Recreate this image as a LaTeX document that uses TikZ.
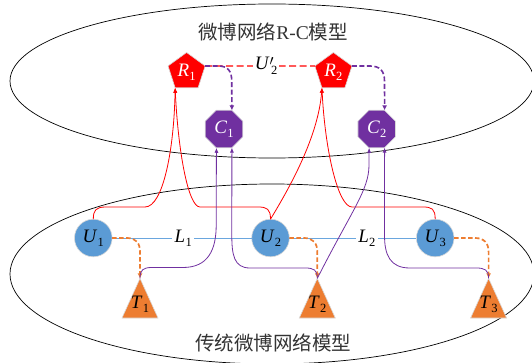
\documentclass[tikz,border=0pt]{standalone}
\usepackage{fontspec}
\setmainfont{Liberation Serif}
\newfontfamily\cjk{Noto Sans CJK SC}
\usetikzlibrary{shapes.geometric,arrows.meta}
\definecolor{rred}{HTML}{FF0000}
\definecolor{ppur}{HTML}{7030A0}
\definecolor{ublue}{HTML}{5B9BD5}
\definecolor{torange}{HTML}{ED7D31}
\definecolor{lblue}{HTML}{6AA6DE}
\definecolor{ttl}{HTML}{333333}
\newcommand\nl[2]{\textit{#1}\kern0.3pt\raisebox{-0.22em}{\fontsize{12.5}{12.5}\selectfont #2}}
\newcommand\nlp[2]{\textit{#1}\rlap{\raisebox{4.6pt}{\fontsize{15}{15}\selectfont$\prime$}}\kern1.5pt\raisebox{-0.26em}{\fontsize{12.5}{12.5}\selectfont #2}}
\begin{document}
\begin{tikzpicture}[x=1pt,y=-1pt,
  nodebase/.style={inner sep=0pt, outer sep=0pt, font=\fontsize{19}{19}\selectfont, draw=gray!30, line width=0.6pt},
  rnode/.style={nodebase, regular polygon, regular polygon sides=5, minimum size=39pt, fill=rred, text=white},
  cnode/.style={nodebase, regular polygon, regular polygon sides=8, minimum size=40.6pt, fill=ppur, text=white},
  unode/.style={nodebase, circle, minimum size=37.6pt, fill=ublue, text=black},
  tbox/.style={inner sep=0pt, outer sep=0pt, minimum width=36pt, minimum height=39.6pt},
  tlab/.style={inner sep=0pt, font=\fontsize{19}{19}\selectfont, text=black},
  lbl/.style={fill=white, inner sep=2.5pt, font=\fontsize{19}{19}\selectfont, text=black},
  ttlstyle/.style={inner sep=0pt, font=\fontsize{19.5}{19.5}\selectfont, text=ttl},
  ell/.style={draw=black, line width=0.7pt},
  redarr/.style={draw=rred, line width=0.8pt, -{Latex[length=5pt,width=4pt]}},
  purarr/.style={draw=ppur, line width=0.8pt, -{Latex[length=5pt,width=4pt]}},
  purdash/.style={draw=ppur, line width=1.6pt, dash pattern=on 5pt off 2.5pt, -{Latex[length=5pt,width=5pt]}},
  orgdash/.style={draw=torange, line width=1.7pt, dash pattern=on 4.5pt off 2.5pt, -{Latex[length=5pt,width=5pt]}},
  reddash/.style={draw=rred, line width=1.3pt, dash pattern=on 7pt off 3.5pt},
  blueline/.style={draw=lblue, line width=0.8pt}
]
\useasboundingbox (0,0) rectangle (532,363);
% ellipses
\draw[ell] (272,81) ellipse [x radius=262, y radius=77];
\draw[ell] (272,274) ellipse [x radius=262, y radius=90];
% titles
\node[ttlstyle] (title1) at (273,32) {{\cjk 微博网络}R-C{\cjk 模型}};
\node[ttlstyle] (title2) at (273,343) {\cjk 传统微博网络模型};
% R and C nodes
\node[rnode] (R1) at (186.6,72) {\nl{R}{1}};
\node[rnode] (R2) at (333.4,72) {\nl{R}{2}};
\node[cnode] (C1) at (224,129) {\nl{C}{1}};
\node[cnode] (C2) at (376.7,129) {\nl{C}{2}};
% U nodes
\node[unode] (U1) at (93.3,238) {\nl{U}{1}};
\node[unode] (U2) at (270.5,238) {\nl{U}{2}};
\node[unode] (U3) at (435.2,238) {\nl{U}{3}};
% T nodes
\node[tbox] (T1) at (140,298.2) {};
\node[tbox] (T2) at (317.3,298.2) {};
\node[tbox] (T3) at (488.6,298.2) {};
\foreach \t in {T1,T2,T3}{
  \filldraw[fill=torange, draw=gray!30, line width=0.6pt] (\t.north) -- (\t.south east) -- (\t.south west) -- cycle;
}
\node[tlab] (T1t) at (140,304.5) {\nl{T}{1}};
\node[tlab] (T2t) at (317.3,304.5) {\nl{T}{2}};
\node[tlab] (T3t) at (488.6,304.5) {\nl{T}{3}};
% blue links
\draw[blueline] (U1.east) -- node[lbl,pos=0.51] (L1) {\nl{L}{1}} (U2.west);
\draw[blueline] (U2.east) -- node[lbl,pos=0.61] (L2) {\nl{L}{2}} (U3.west);
% red dashed R1 -- R2
\draw[reddash] (R1.18) -- node[lbl,pos=0.555,inner sep=1.5pt] (Up) {\nlp{U}{2}} (R2.162);
% purple dashed R -> C
\draw[purdash] (R1.18) -- (218,66) .. controls (228,66) and (231.7,71) .. (231.7,81) -- (C1.67.5);
\draw[purdash] (R2.18) -- (370,66) .. controls (380,66) and (384.5,71) .. (384.5,81) -- (C2.67.5);
% orange dashed U -> T
\draw[orgdash] (U1.east) -- (127,238) .. controls (136,238) and (140,243) .. (140,252) -- (T1.north);
\draw[orgdash] (U2.east) -- (304,238) .. controls (313,238) and (317.3,243) .. (317.3,252) -- (T2.north);
\draw[orgdash] (U3.east) -- (475,238) .. controls (484,238) and (488.6,243) .. (488.6,252) -- (T3.north);
% red U -> R
\draw[redarr] (U1.north) .. controls (93.3,210) and (96,207) .. (106,207) -- (145,207) .. controls (163,207) and (174,150) .. (R1.234);
\draw[redarr] (U2.north) .. controls (270.5,209) and (267,207) .. (258,207) -- (200,207) .. controls (188,207) and (178,150) .. (R1.234);
\draw[redarr] (U2.north) .. controls (285,195) and (318,140) .. (R2.234);
\draw[redarr] (U3.north) .. controls (435.2,209) and (432,207) .. (423,207) -- (352,207) .. controls (338,207) and (325,150) .. (R2.234);
% purple T -> C
\draw[purarr] (T1.north) .. controls (140,270) and (143,267.5) .. (152,267.5) -- (183,267.5) .. controls (208,267.5) and (216.2,250) .. (216.2,225) -- (C1.-112.5);
\draw[purarr] (T2.north) .. controls (317.3,270) and (314,268) .. (305,268) -- (250,268) .. controls (234,268) and (231.8,255) .. (231.8,235) -- (C1.-67.5);
\draw[purarr] (T2.north) .. controls (352,210) and (369,190) .. (369,165) -- (C2.-112.5);
\draw[purarr] (T3.north) .. controls (488.6,270) and (485,268) .. (476,268) -- (410,268) .. controls (390,268) and (384.5,255) .. (384.5,235) -- (C2.-67.5);
\end{tikzpicture}
\end{document}
